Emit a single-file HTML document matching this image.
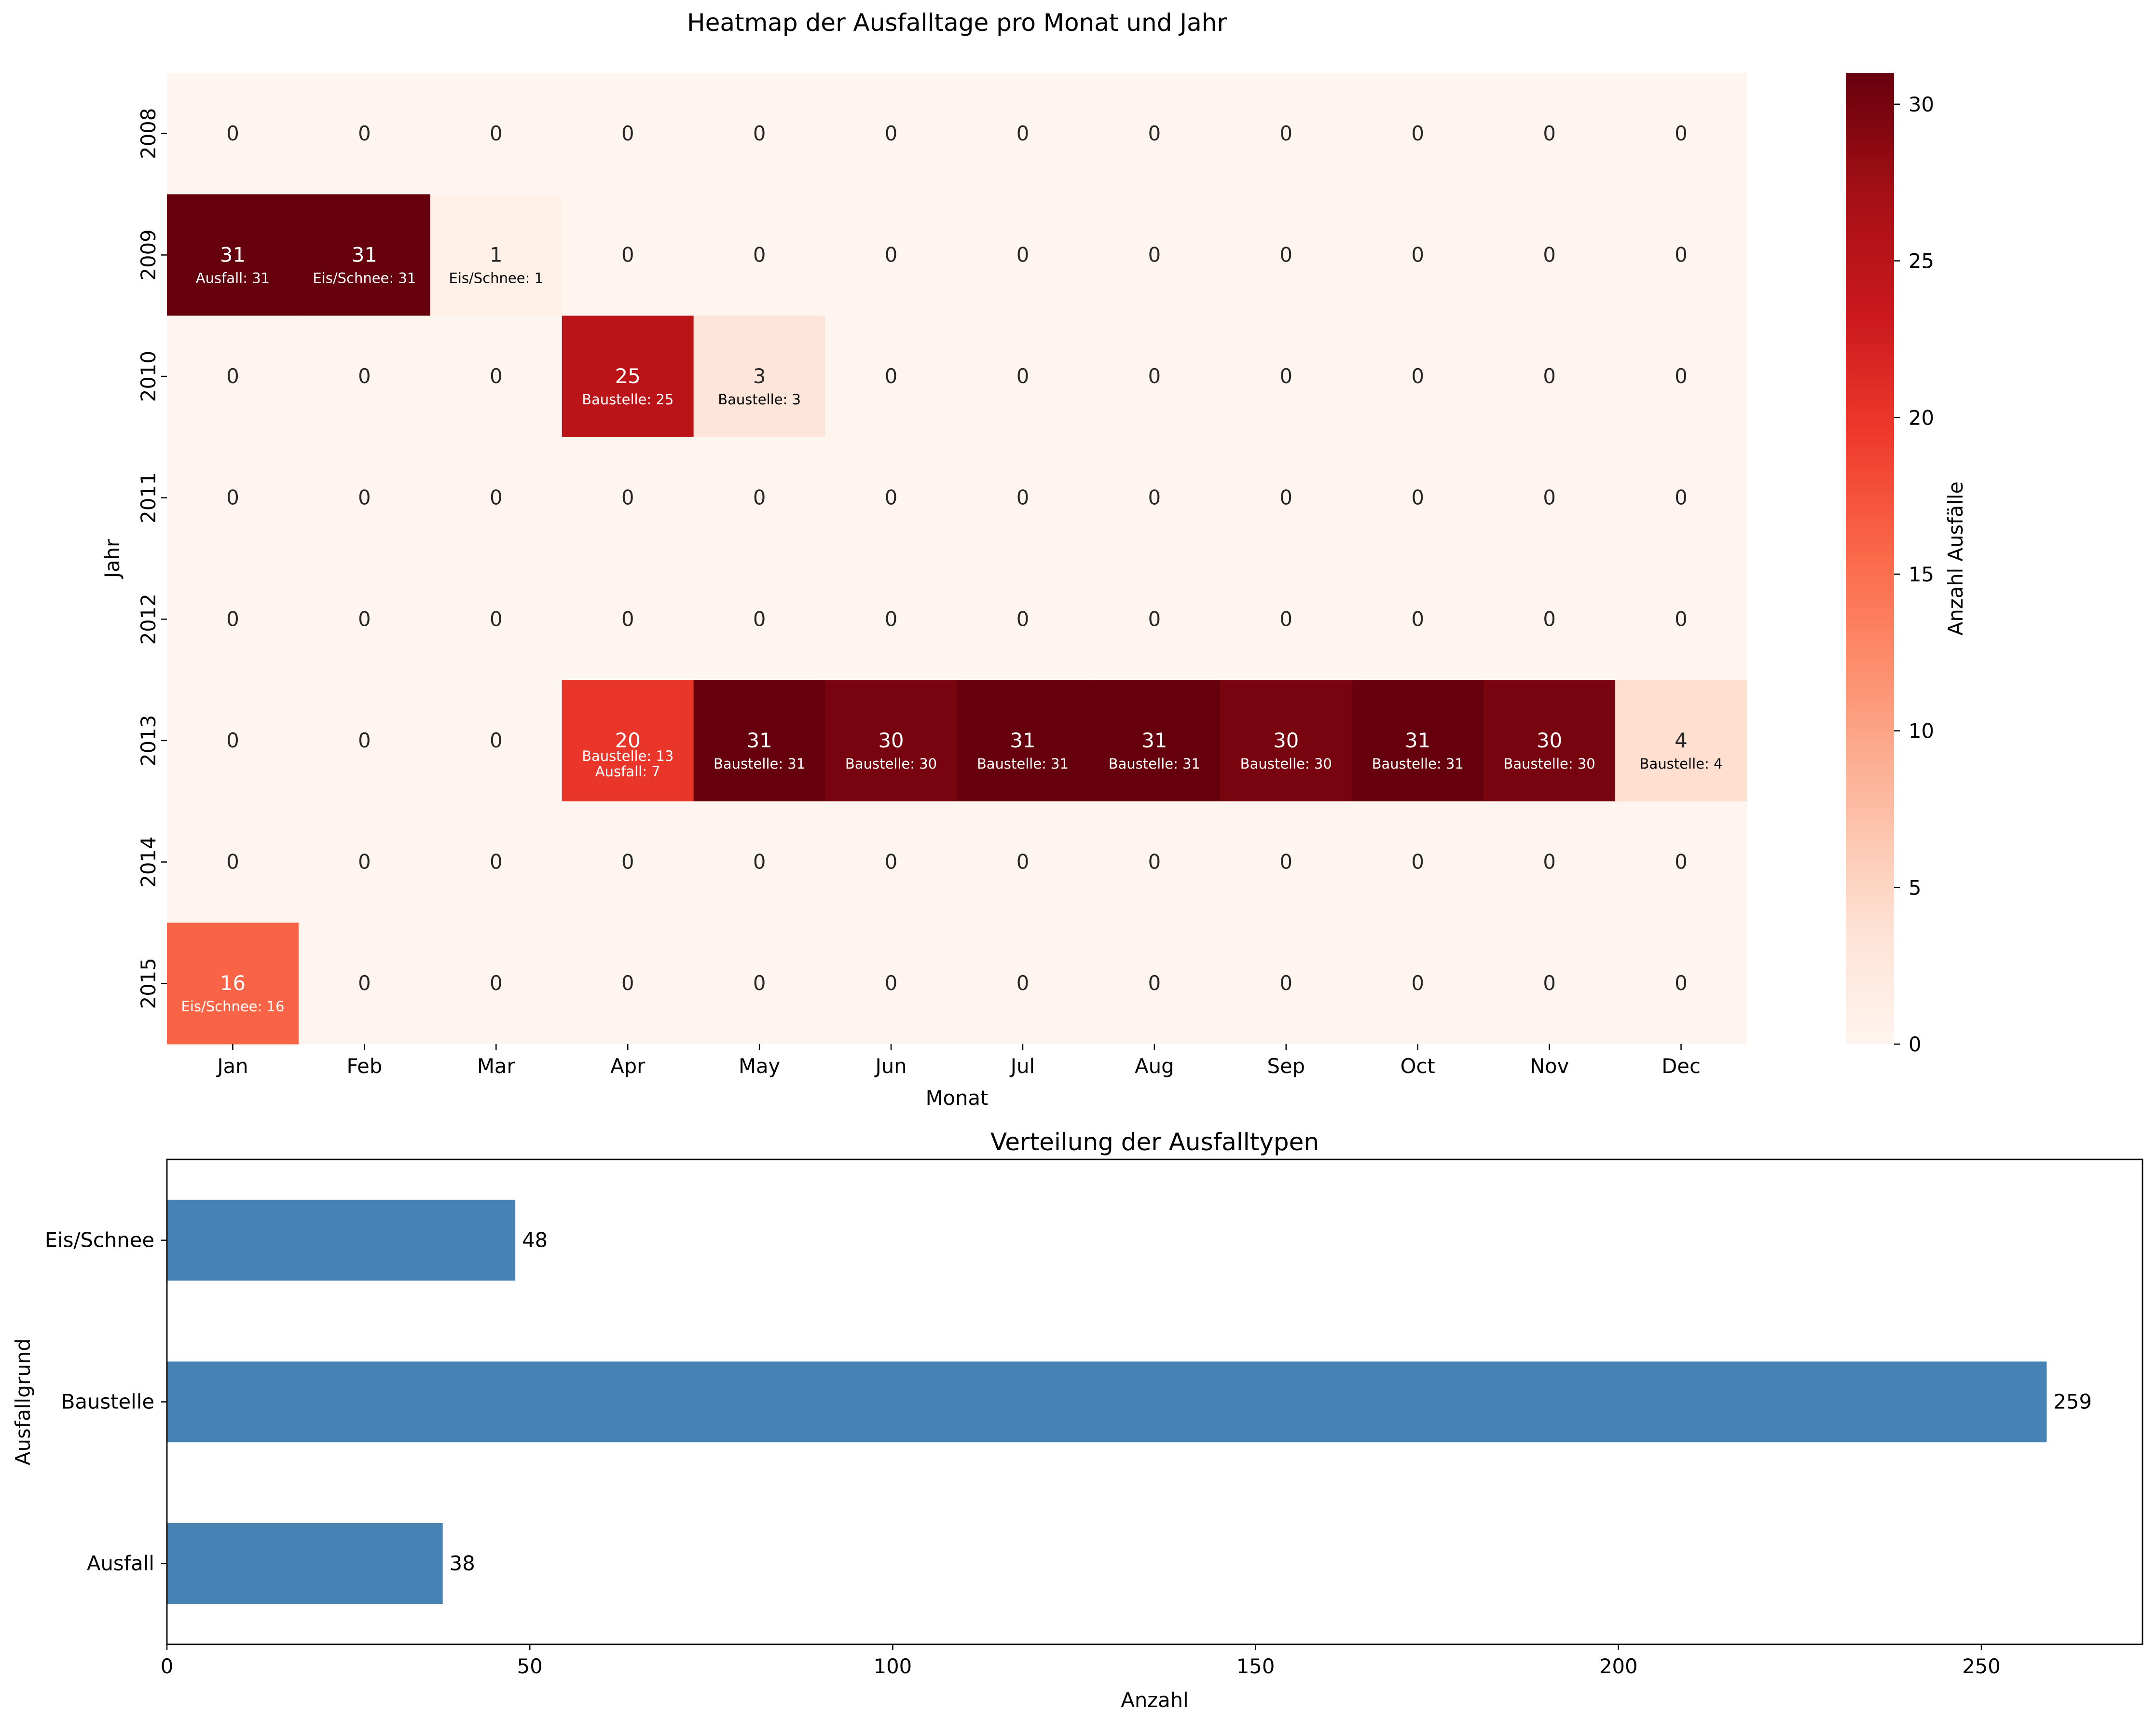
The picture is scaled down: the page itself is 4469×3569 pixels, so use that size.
<!DOCTYPE html>
<html><head><meta charset="utf-8"><style>
html,body{margin:0;padding:0;background:#fff;}
svg{display:block;font-family:"DejaVu Sans","Liberation Sans",sans-serif;}
</style></head><body>
<svg id="fig" xmlns="http://www.w3.org/2000/svg" width="4469" height="3569" viewBox="0 0 4469 3569">
<rect width="4469" height="3569" fill="#fff"/>
<g id="heat"></g>
<g id="cbar"></g>
<g id="bars"></g>
</svg>
<script>
const years = ["2008","2009","2010","2011","2012","2013","2014","2015"];
const months = ["Jan","Feb","Mar","Apr","May","Jun","Jul","Aug","Sep","Oct","Nov","Dec"];
const v2008 = [0,0,0,0,0,0,0,0,0,0,0,0];
const v2009 = [31,31,1,0,0,0,0,0,0,0,0,0];
const v2010 = [0,0,0,25,3,0,0,0,0,0,0,0];
const v2011 = [0,0,0,0,0,0,0,0,0,0,0,0];
const v2012 = [0,0,0,0,0,0,0,0,0,0,0,0];
const v2013 = [0,0,0,20,31,30,31,31,30,31,30,4];
const v2014 = [0,0,0,0,0,0,0,0,0,0,0,0];
const v2015 = [16,0,0,0,0,0,0,0,0,0,0,0];
const heatValues = [v2008,v2009,v2010,v2011,v2012,v2013,v2014,v2015];
const cellNotes = {
 "1-0":["Ausfall: 31"],"1-1":["Eis/Schnee: 31"],"1-2":["Eis/Schnee: 1"],
 "2-3":["Baustelle: 25"],"2-4":["Baustelle: 3"],
 "5-3":["Baustelle: 13","Ausfall: 7"],"5-4":["Baustelle: 31"],"5-5":["Baustelle: 30"],
 "5-6":["Baustelle: 31"],"5-7":["Baustelle: 31"],"5-8":["Baustelle: 30"],"5-9":["Baustelle: 31"],
 "5-10":["Baustelle: 30"],"5-11":["Baustelle: 4"],"7-0":["Eis/Schnee: 16"]
};
const cbTicks = [0,5,10,15,20,25,30];
const barCats = ["Ausfall","Baustelle","Eis/Schnee"];
const barVals = [38,259,48];
const barTicks = [0,50,100,150,200,250];

const NS="http://www.w3.org/2000/svg";
function mk(tag,attrs,parent,text){const e=document.createElementNS(NS,tag);for(const k in attrs)e.setAttribute(k,attrs[k]);if(text!==undefined)e.textContent=text;parent.appendChild(e);return e;}
const stops=[[255,245,240],[254,224,210],[252,187,161],[252,146,114],[251,106,74],[239,59,44],[203,24,29],[165,15,21],[103,0,13]];
function cmap(t){t=Math.max(0,Math.min(1,t));const p=t*8;const i=Math.min(7,Math.floor(p));const f=p-i;const a=stops[i],b=stops[i+1];return "rgb("+a.map((c,k)=>Math.round(c+(b[k]-c)*f)).join(",")+")";}
const VMAX=31;
const HL=346,HR=3621,HT=151,HB=2164;
const cw=(HR-HL)/months.length, rh=(HB-HT)/years.length;
const xc=j=>HL+cw*(j+0.5), yc=i=>HT+rh*(i+0.5);
const heat=document.getElementById('heat');
mk('text',{x:(HL+HR)/2,y:64,'font-size':50,'text-anchor':'middle',},heat,"Heatmap der Ausfalltage pro Monat und Jahr");
heatValues.forEach((row,i)=>{row.forEach((v,j)=>{
 const r=mk('rect',{x:HL+cw*j,y:HT+rh*i,width:cw+0.5,height:rh+0.5,fill:cmap(v/VMAX)},heat);
 
 
 const dark=v>10;
 const t=mk('text',{x:xc(j),y:yc(i)+14,'font-size':41.7,'text-anchor':'middle',fill:dark?'#fff':'#262626'},heat,String(v));
 
 
 const notes=cellNotes[i+"-"+j];
 if(notes){const offs=notes.length===1?[48]:[32,64];
  notes.forEach((s,k)=>{const n=mk('text',{x:xc(j),y:yc(i)+offs[k]+10,'font-size':29,'text-anchor':'middle',fill:dark?'#fff':'#000'},heat,s);
   
   });}
});});
years.forEach((y,i)=>{mk('line',{x1:HL-12,x2:HL,y1:yc(i),y2:yc(i),stroke:'#000','stroke-width':2.5},heat);
 const t=mk('text',{x:0,y:0,'font-size':41.7,'text-anchor':'middle',transform:`translate(${HL-24},${yc(i)}) rotate(-90)`},heat,y);
 
 });
months.forEach((m,j)=>{mk('line',{x1:xc(j),x2:xc(j),y1:HB,y2:HB+12,stroke:'#000','stroke-width':2.5},heat);
 const t=mk('text',{x:xc(j),y:HB+60,'font-size':41.7,'text-anchor':'middle'},heat,m);
 
 });
mk('text',{x:(HL+HR)/2,y:2290,'font-size':41.7,'text-anchor':'middle',},heat,"Monat");
mk('text',{x:0,y:0,'font-size':41.7,'text-anchor':'middle',transform:`translate(${247},${(HT+HB)/2}) rotate(-90)`,},heat,"Jahr");
const cb=document.getElementById('cbar');
const CL=3826,CR=3926;
const cy=v=>HB-(v/VMAX)*(HB-HT);
const defs=mk('defs',{},cb);const g=mk('linearGradient',{id:'cg',x1:0,y1:1,x2:0,y2:0},defs);
for(let k=0;k<=16;k++)mk('stop',{offset:k/16,'stop-color':cmap(k/16)},g);
mk('rect',{x:CL,y:HT,width:CR-CL,height:HB-HT,fill:'url(#cg)',},cb);
cbTicks.forEach(v=>{mk('line',{x1:CR,x2:CR+12,y1:cy(v),y2:cy(v),stroke:'#000','stroke-width':2.5},cb);
 const t=mk('text',{x:CR+30,y:cy(v)+15,'font-size':41.7},cb,String(v));
 
 });
mk('text',{x:0,y:0,'font-size':41.7,'text-anchor':'middle',transform:`translate(${4068},${(HT+HB)/2}) rotate(-90)`,},cb,"Anzahl Ausfälle");
const bg=document.getElementById('bars');
const BL=346,BR=4441,BT=2403,BB=3408;
const XMAX=272.2;
const bx=v=>BL+(v/XMAX)*(BR-BL);
const by=i=>BB-(i+0.5)*(BB-BT)/barCats.length;
const bh=0.5*(BB-BT)/barCats.length;
mk('text',{x:(BL+BR)/2,y:2384,'font-size':50,'text-anchor':'middle',},bg,"Verteilung der Ausfalltypen");
barCats.forEach((c,i)=>{
 const r=mk('rect',{x:BL,y:by(i)-bh/2,width:bx(barVals[i])-BL,height:bh,fill:'#4682b4'},bg);
 
 
 const t=mk('text',{x:bx(barVals[i])+14,y:by(i)+14,'font-size':41.7},bg,String(barVals[i]));
 
 
 mk('line',{x1:BL-12,x2:BL,y1:by(i),y2:by(i),stroke:'#000','stroke-width':2.5},bg);
 const l=mk('text',{x:BL-26,y:by(i)+14,'font-size':41.7,'text-anchor':'end'},bg,c);
 
 
});
barTicks.forEach(v=>{mk('line',{x1:bx(v),x2:bx(v),y1:BB,y2:BB+12,stroke:'#000','stroke-width':2.5},bg);
 const t=mk('text',{x:bx(v),y:BB+60,'font-size':41.7,'text-anchor':'middle'},bg,String(v));
 
 });
mk('rect',{x:BL,y:BT,width:BR-BL,height:BB-BT,fill:'none',stroke:'#000','stroke-width':2.8,},bg);
mk('text',{x:(BL+BR)/2,y:3538,'font-size':41.7,'text-anchor':'middle',},bg,"Anzahl");
mk('text',{x:0,y:0,'font-size':41.7,'text-anchor':'middle',transform:`translate(${62},${(BT+BB)/2}) rotate(-90)`,},bg,"Ausfallgrund");
</script>
</body></html>
